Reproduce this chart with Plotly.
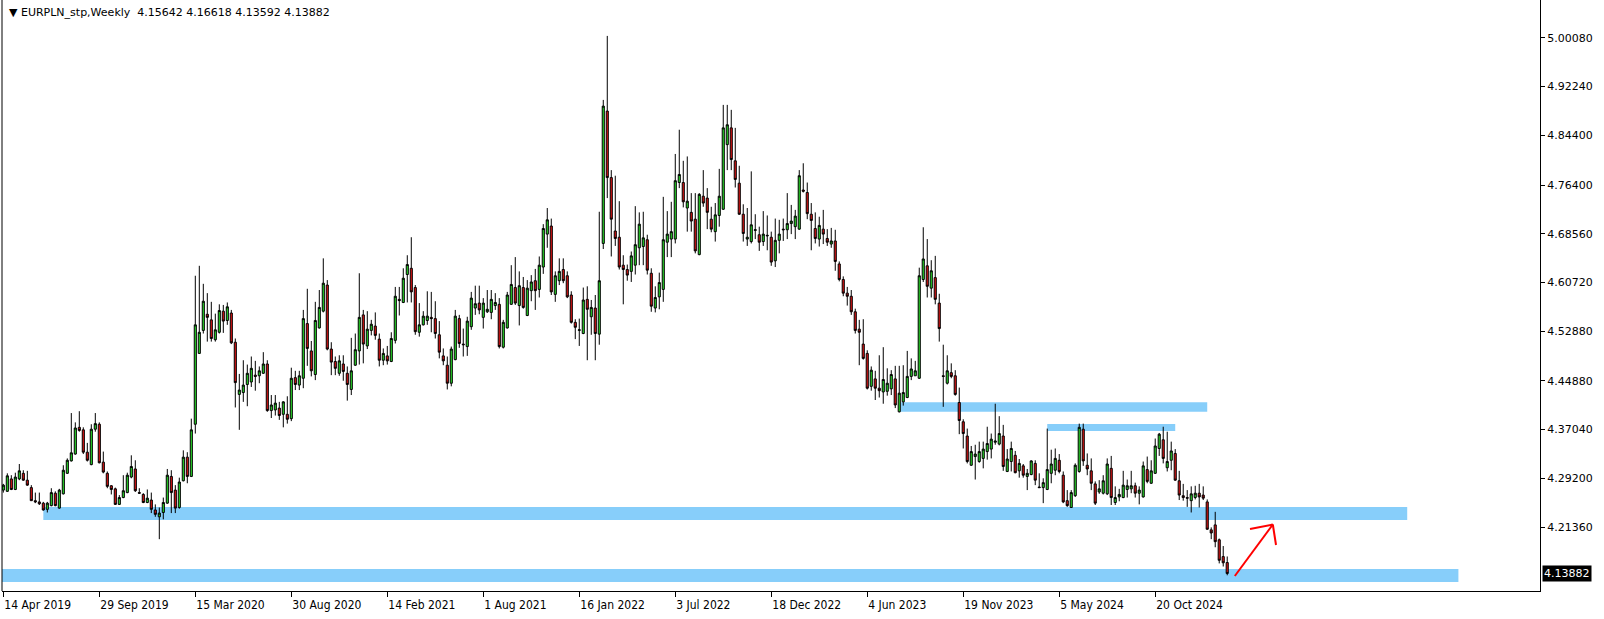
import pandas as pd
import plotly.graph_objects as go

START_DATE = "2019-04-14"

OPEN = [4.273,4.271,4.291,4.274,4.291,4.300,4.289,4.277,4.256,4.254,4.252,4.242,4.248,4.268,4.244,4.267,4.300,4.320,4.331,4.374,
4.370,4.334,4.314,4.371,4.379,4.318,4.300,4.280,4.275,4.250,4.261,4.269,4.294,4.307,4.269,4.266,4.253,4.257,4.241,4.230,
4.237,4.252,4.295,4.273,4.245,4.288,4.326,4.295,4.379,4.493,4.530,4.556,4.547,4.515,4.527,4.561,4.546,4.558,4.511,4.427,
4.430,4.443,4.447,4.458,4.457,4.461,4.476,4.401,4.402,4.405,4.395,4.395,4.388,4.454,4.442,4.453,4.541,4.497,4.459,4.534,
4.561,4.603,4.500,4.480,4.461,4.476,4.461,4.435,4.474,4.497,4.555,4.505,4.530,4.537,4.516,4.482,4.489,4.480,4.514,4.580,
4.575,4.620,4.630,4.599,4.527,4.539,4.546,4.551,4.549,4.523,4.489,4.474,4.445,4.483,4.549,4.508,4.504,4.536,4.566,4.574,
4.551,4.560,4.559,4.570,4.572,4.503,4.534,4.572,4.599,4.570,4.599,4.554,4.594,4.610,4.596,4.632,4.685,4.698,4.588,4.610,
4.628,4.618,4.587,4.543,4.530,4.525,4.580,4.552,4.566,4.524,4.670,4.883,4.776,4.690,4.680,4.635,4.628,4.625,4.635,4.663,
4.665,4.676,4.622,4.566,4.584,4.596,4.672,4.677,4.677,4.768,4.768,4.727,4.720,4.709,4.652,4.746,4.743,4.709,4.689,4.715,
4.725,4.829,4.856,4.803,4.767,4.717,4.677,4.673,4.691,4.684,4.673,4.682,4.680,4.642,4.675,4.693,4.692,4.702,4.697,4.693,
4.756,4.752,4.717,4.694,4.677,4.693,4.678,4.669,4.674,4.637,4.612,4.590,4.585,4.560,4.532,4.508,4.493,4.440,4.452,4.437,
4.431,4.432,4.436,4.452,4.399,4.415,4.422,4.456,4.457,4.453,4.612,4.634,4.598,4.615,4.574,4.457,4.445,4.462,4.457,4.414,
4.383,4.360,4.313,4.327,4.319,4.324,4.335,4.339,4.350,4.347,4.360,4.303,4.319,4.329,4.304,4.312,4.295,4.298,4.316,4.278,
4.277,4.274,4.300,4.305,4.321,4.297,4.256,4.245,4.264,4.303,4.371,4.313,4.304,4.283,4.270,4.268,4.267,4.308,4.253,4.262,
4.261,4.274,4.275,4.280,4.268,4.262,4.306,4.284,4.300,4.340,4.354,4.309,4.321,4.332,4.288,4.264,4.261,4.256,4.261,4.268,
4.265,4.254,4.209,4.217,4.193,4.166,4.15642]

HIGH = [4.283,4.300,4.297,4.301,4.315,4.305,4.304,4.281,4.269,4.269,4.254,4.254,4.276,4.271,4.275,4.313,4.324,4.397,4.382,4.400,
4.374,4.349,4.379,4.397,4.382,4.335,4.303,4.281,4.277,4.265,4.297,4.301,4.329,4.321,4.276,4.268,4.274,4.269,4.250,4.245,
4.261,4.307,4.305,4.281,4.293,4.337,4.334,4.388,4.618,4.634,4.605,4.590,4.576,4.557,4.572,4.571,4.575,4.563,4.517,4.460,
4.482,4.475,4.488,4.481,4.472,4.495,4.482,4.426,4.426,4.415,4.416,4.424,4.470,4.465,4.465,4.563,4.597,4.513,4.576,4.595,
4.646,4.611,4.511,4.488,4.490,4.490,4.472,4.518,4.525,4.622,4.563,4.561,4.547,4.559,4.525,4.501,4.505,4.527,4.600,4.600,
4.630,4.651,4.680,4.603,4.574,4.561,4.593,4.592,4.577,4.545,4.501,4.488,4.504,4.563,4.555,4.533,4.552,4.592,4.602,4.602,
4.582,4.595,4.595,4.590,4.582,4.547,4.592,4.635,4.648,4.625,4.616,4.611,4.619,4.629,4.649,4.701,4.727,4.710,4.625,4.646,
4.646,4.625,4.593,4.548,4.549,4.599,4.601,4.579,4.587,4.721,4.901,5.004,4.788,4.779,4.738,4.651,4.636,4.657,4.730,4.720,
4.721,4.684,4.630,4.601,4.623,4.745,4.722,4.737,4.814,4.853,4.803,4.810,4.751,4.751,4.751,4.788,4.759,4.729,4.735,4.790,
4.893,4.893,4.885,4.856,4.795,4.733,4.727,4.786,4.717,4.697,4.722,4.715,4.689,4.710,4.708,4.710,4.751,4.732,4.724,4.788,
4.799,4.768,4.735,4.720,4.713,4.724,4.693,4.695,4.692,4.641,4.617,4.600,4.595,4.565,4.547,4.548,4.498,4.472,4.465,4.490,
4.503,4.469,4.466,4.473,4.473,4.474,4.497,4.485,4.481,4.631,4.696,4.677,4.643,4.650,4.589,4.507,4.490,4.477,4.466,4.438,
4.387,4.372,4.344,4.346,4.351,4.351,4.375,4.364,4.412,4.392,4.378,4.339,4.351,4.336,4.323,4.315,4.307,4.321,4.321,4.300,
4.292,4.372,4.338,4.340,4.331,4.303,4.273,4.273,4.316,4.380,4.380,4.332,4.324,4.287,4.289,4.297,4.324,4.328,4.279,4.275,
4.304,4.290,4.304,4.285,4.279,4.319,4.327,4.321,4.356,4.365,4.375,4.367,4.351,4.339,4.304,4.283,4.273,4.279,4.280,4.283,
4.279,4.258,4.213,4.238,4.195,4.183,4.16618]

LOW = [4.269,4.270,4.273,4.273,4.289,4.288,4.280,4.256,4.252,4.249,4.240,4.237,4.247,4.247,4.243,4.266,4.299,4.319,4.330,4.367,
4.331,4.319,4.313,4.367,4.316,4.300,4.276,4.266,4.249,4.249,4.260,4.268,4.292,4.270,4.267,4.252,4.252,4.236,4.230,4.194,
4.226,4.251,4.236,4.236,4.243,4.287,4.284,4.294,4.364,4.493,4.525,4.512,4.512,4.512,4.525,4.526,4.539,4.508,4.406,4.370,
4.415,4.408,4.439,4.433,4.445,4.460,4.399,4.389,4.393,4.386,4.374,4.380,4.384,4.434,4.434,4.437,4.473,4.456,4.450,4.533,
4.559,4.498,4.458,4.458,4.457,4.449,4.417,4.426,4.473,4.475,4.477,4.500,4.522,4.515,4.472,4.474,4.475,4.479,4.509,4.554,
4.574,4.575,4.575,4.523,4.520,4.538,4.539,4.527,4.517,4.485,4.474,4.435,4.440,4.482,4.502,4.488,4.489,4.531,4.555,4.556,
4.533,4.558,4.548,4.563,4.501,4.501,4.533,4.571,4.571,4.538,4.565,4.553,4.577,4.563,4.583,4.621,4.663,4.587,4.576,4.603,
4.606,4.582,4.541,4.516,4.505,4.524,4.482,4.523,4.482,4.507,4.661,4.743,4.649,4.666,4.628,4.572,4.610,4.608,4.620,4.635,
4.635,4.620,4.560,4.559,4.564,4.576,4.648,4.648,4.670,4.759,4.728,4.689,4.689,4.654,4.651,4.729,4.693,4.688,4.673,4.697,
4.724,4.788,4.788,4.760,4.716,4.673,4.666,4.670,4.677,4.658,4.666,4.659,4.634,4.632,4.654,4.674,4.677,4.685,4.677,4.692,
4.752,4.709,4.659,4.670,4.665,4.669,4.666,4.663,4.626,4.609,4.585,4.570,4.555,4.525,4.474,4.483,4.435,4.433,4.418,4.422,
4.412,4.425,4.426,4.405,4.398,4.409,4.421,4.450,4.457,4.452,4.608,4.583,4.583,4.572,4.512,4.407,4.443,4.453,4.425,4.363,
4.340,4.316,4.312,4.290,4.317,4.308,4.322,4.324,4.346,4.345,4.304,4.302,4.303,4.300,4.293,4.293,4.273,4.297,4.281,4.277,
4.252,4.273,4.284,4.297,4.300,4.252,4.246,4.245,4.262,4.301,4.312,4.297,4.273,4.249,4.267,4.266,4.265,4.249,4.249,4.255,
4.260,4.261,4.268,4.261,4.250,4.261,4.284,4.283,4.299,4.328,4.316,4.303,4.305,4.288,4.257,4.256,4.246,4.237,4.258,4.245,
4.257,4.209,4.194,4.181,4.155,4.150,4.13592]

CLOSE = [4.281,4.296,4.274,4.294,4.304,4.289,4.281,4.256,4.254,4.251,4.241,4.252,4.269,4.248,4.273,4.305,4.321,4.333,4.373,4.369,
4.334,4.321,4.371,4.380,4.317,4.302,4.279,4.274,4.250,4.261,4.272,4.297,4.311,4.272,4.268,4.253,4.260,4.242,4.234,4.236,
4.253,4.297,4.269,4.244,4.286,4.326,4.295,4.370,4.539,4.527,4.577,4.551,4.517,4.531,4.562,4.545,4.568,4.510,4.446,4.434,
4.442,4.461,4.469,4.456,4.465,4.476,4.401,4.410,4.413,4.393,4.415,4.387,4.453,4.443,4.457,4.549,4.501,4.465,4.546,4.567,
4.606,4.500,4.479,4.469,4.481,4.464,4.443,4.465,4.499,4.551,4.508,4.532,4.540,4.522,4.482,4.493,4.481,4.517,4.585,4.578,
4.614,4.636,4.592,4.528,4.539,4.553,4.553,4.549,4.525,4.495,4.481,4.445,4.500,4.553,4.509,4.507,4.545,4.582,4.573,4.563,
4.574,4.564,4.580,4.575,4.504,4.543,4.587,4.604,4.574,4.602,4.567,4.598,4.608,4.594,4.635,4.694,4.708,4.592,4.618,4.625,
4.610,4.584,4.543,4.535,4.531,4.579,4.564,4.567,4.525,4.610,4.891,4.776,4.709,4.678,4.632,4.628,4.619,4.650,4.668,4.701,
4.679,4.627,4.569,4.583,4.607,4.676,4.685,4.689,4.771,4.781,4.737,4.738,4.706,4.658,4.749,4.735,4.720,4.693,4.716,4.746,
4.856,4.861,4.805,4.773,4.717,4.686,4.680,4.700,4.692,4.672,4.685,4.683,4.640,4.675,4.685,4.692,4.702,4.706,4.714,4.779,
4.754,4.718,4.707,4.678,4.699,4.685,4.672,4.674,4.641,4.612,4.590,4.585,4.560,4.530,4.527,4.485,4.437,4.466,4.437,4.433,
4.451,4.445,4.459,4.410,4.429,4.430,4.456,4.468,4.465,4.618,4.645,4.601,4.626,4.580,4.533,4.456,4.465,4.456,4.427,4.385,
4.364,4.319,4.335,4.331,4.335,4.339,4.348,4.355,4.352,4.364,4.311,4.323,4.340,4.301,4.316,4.297,4.300,4.320,4.289,4.277,
4.285,4.306,4.315,4.324,4.303,4.254,4.248,4.269,4.313,4.374,4.320,4.307,4.284,4.252,4.275,4.288,4.315,4.261,4.261,4.266,
4.281,4.280,4.280,4.268,4.273,4.312,4.287,4.304,4.344,4.363,4.324,4.319,4.336,4.289,4.265,4.261,4.260,4.267,4.268,4.262,
4.260,4.210,4.204,4.190,4.160,4.156,4.13882]

X_TICK_LABELS = ["14 Apr 2019", "29 Sep 2019", "15 Mar 2020", "30 Aug 2020", "14 Feb 2021",
                 "1 Aug 2021", "16 Jan 2022", "3 Jul 2022", "18 Dec 2022", "4 Jun 2023",
                 "19 Nov 2023", "5 May 2024", "20 Oct 2024"]
Y_TICK_VALUES = [5.00080, 4.92240, 4.84400, 4.76400, 4.68560, 4.60720, 4.52880,
                 4.44880, 4.37040, 4.29200, 4.21360]

# support / resistance zones: (start bar, end bar, low price, high price)
ZONES = [
    (224.3, 301.0, 4.3990, 4.4143),
    (261.0, 293.0, 4.3681, 4.3794),
    (10.0, 351.0, 4.2249, 4.2458),
    (-1.0, 363.8, 4.1250, 4.1460),
]
ARROW_START = (307.9, 4.1347)
ARROW_TIP = (317.4, 4.2176)
ARROW_WINGS = [(311.7, 4.2104), (318.2, 4.1846)]

SYMBOL = "EURPLN_stp,Weekly"

n = len(CLOSE)
dates = pd.date_range(START_DATE, periods=n, freq="7D")
idx = list(range(n))
label_dates = [pd.Timestamp(s) for s in X_TICK_LABELS]
tickvals = [int(dates.get_loc(d)) for d in label_dates]

GREEN = "#2ADC2A"
RED = "#DC1414"

fig = go.Figure()
fig.add_trace(go.Candlestick(
    x=idx, open=OPEN, high=HIGH, low=LOW, close=CLOSE,
    increasing=dict(fillcolor=GREEN, line=dict(color="black", width=1)),
    decreasing=dict(fillcolor=RED, line=dict(color="black", width=1)),
    whiskerwidth=0, showlegend=False, hoverinfo="skip",
))

shapes = []
for x0, x1, y0, y1 in ZONES:
    shapes.append(dict(type="rect", xref="x", yref="y", x0=x0, x1=x1, y0=y0, y1=y1,
                       fillcolor="#87CEFA", line=dict(width=0), layer="below"))
# arrow
shapes.append(dict(type="line", xref="x", yref="y", x0=ARROW_START[0], y0=ARROW_START[1],
                   x1=ARROW_TIP[0], y1=ARROW_TIP[1], line=dict(color="#FF0000", width=2)))
for wx, wy in ARROW_WINGS:
    shapes.append(dict(type="line", xref="x", yref="y", x0=ARROW_TIP[0], y0=ARROW_TIP[1],
                       x1=wx, y1=wy, line=dict(color="#FF0000", width=2)))
# left frame line
shapes.append(dict(type="line", xref="paper", yref="paper", x0=0, x1=0, y0=0, y1=1,
                   line=dict(color="black", width=1)))

last = CLOSE[-1]
title_text = ("\u25BC\u00a0" + SYMBOL + "\u00a0\u00a0" +
              "\u00a0".join(f"{v:.5f}" for v in (OPEN[-1], HIGH[-1], LOW[-1], CLOSE[-1])))

annotations = [
    dict(xref="paper", yref="paper", x=0.003, y=1.0, xanchor="left", yanchor="top",
         yshift=-4, text=title_text, showarrow=False,
         font=dict(family="DejaVu Sans", size=11, color="black")),
    dict(xref="paper", yref="y", x=1.0, y=last, xanchor="left", yanchor="middle",
         xshift=2, text=f"{last:.5f}", showarrow=False, bgcolor="black",
         font=dict(family="DejaVu Sans", size=11, color="white"), borderpad=1),
]

fig.update_layout(
    width=1604, height=619,
    margin=dict(l=2, r=64, t=0, b=28),
    paper_bgcolor="white", plot_bgcolor="white",
    boxgap=0.25,
    shapes=shapes, annotations=annotations,
    xaxis=dict(range=[-0.33, 384.2], rangeslider=dict(visible=False),
               tickvals=tickvals, ticktext=X_TICK_LABELS,
               ticks="outside", ticklen=5, tickcolor="black",
               ticklabelposition="outside right", ticklabelstandoff=3,
               showline=True, linecolor="black", linewidth=1,
               showgrid=False, zeroline=False,
               tickfont=dict(family="Liberation Sans Narrow, DejaVu Sans Condensed, Liberation Sans",
                             size=12, color="black")),
    yaxis=dict(range=[4.1106, 5.0618], side="right",
               tickvals=Y_TICK_VALUES, ticktext=[f"{v:.5f}" for v in Y_TICK_VALUES],
               ticks="outside", ticklen=4, tickcolor="black",
               showline=True, linecolor="black", linewidth=1,
               showgrid=False, zeroline=False,
               tickfont=dict(family="DejaVu Sans", size=11, color="black")),
)

fig.write_html("out.html", config={"displayModeBar": False},
               post_script="document.body.style.margin='0';document.body.style.overflow='hidden';")
